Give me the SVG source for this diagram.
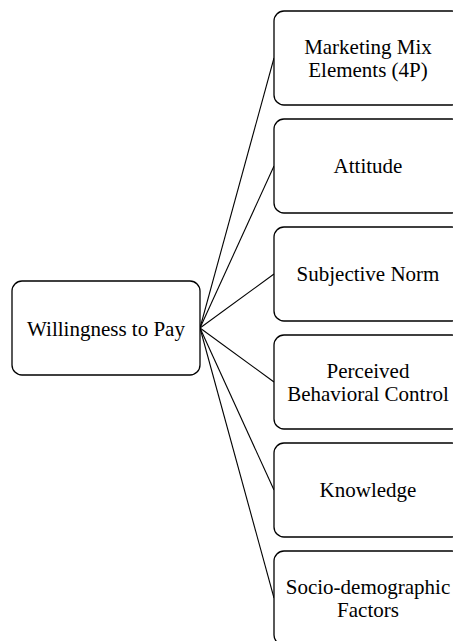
<svg xmlns="http://www.w3.org/2000/svg" width="453" height="641" viewBox="0 0 453 641">
<style>
.box{fill:#fff;stroke:#000;stroke-width:1.3}
.t{font-family:"Liberation Serif","Times New Roman",serif;font-size:21px;fill:#000;text-anchor:middle}
.c{stroke:#000;stroke-width:1.1;fill:none}
</style>
<rect width="453" height="641" fill="#fff"/>
<g id="connectors">
<line class="c" x1="200" y1="328" x2="274" y2="58"/>
<line class="c" x1="200" y1="328" x2="274" y2="166"/>
<line class="c" x1="200" y1="328" x2="274" y2="274"/>
<line class="c" x1="200" y1="328" x2="274" y2="382"/>
<line class="c" x1="200" y1="328" x2="274" y2="490"/>
<line class="c" x1="200" y1="328" x2="274" y2="598"/>
</g>
<g id="wtp">
<rect class="box" x="12" y="281" width="188" height="94" rx="10"/>
<text class="t" x="106" y="335.5">Willingness to Pay</text>
</g>
<g id="marketing">
<rect class="box" x="274" y="11" width="188" height="94" rx="10"/>
<text class="t" x="368" y="54">Marketing Mix</text>
<text class="t" x="368" y="77">Elements (4P)</text>
</g>
<g id="attitude">
<rect class="box" x="274" y="119" width="188" height="94" rx="10"/>
<text class="t" x="368" y="173">Attitude</text>
</g>
<g id="subjective">
<rect class="box" x="274" y="227" width="188" height="94" rx="10"/>
<text class="t" x="368" y="281">Subjective Norm</text>
</g>
<g id="pbc">
<rect class="box" x="274" y="335" width="188" height="94" rx="10"/>
<text class="t" x="368" y="378">Perceived</text>
<text class="t" x="368" y="401">Behavioral Control</text>
</g>
<g id="knowledge">
<rect class="box" x="274" y="443" width="188" height="94" rx="10"/>
<text class="t" x="368" y="497">Knowledge</text>
</g>
<g id="socio">
<rect class="box" x="274" y="551" width="188" height="94" rx="10"/>
<text class="t" x="368" y="594">Socio-demographic</text>
<text class="t" x="368" y="617">Factors</text>
</g>
</svg>
